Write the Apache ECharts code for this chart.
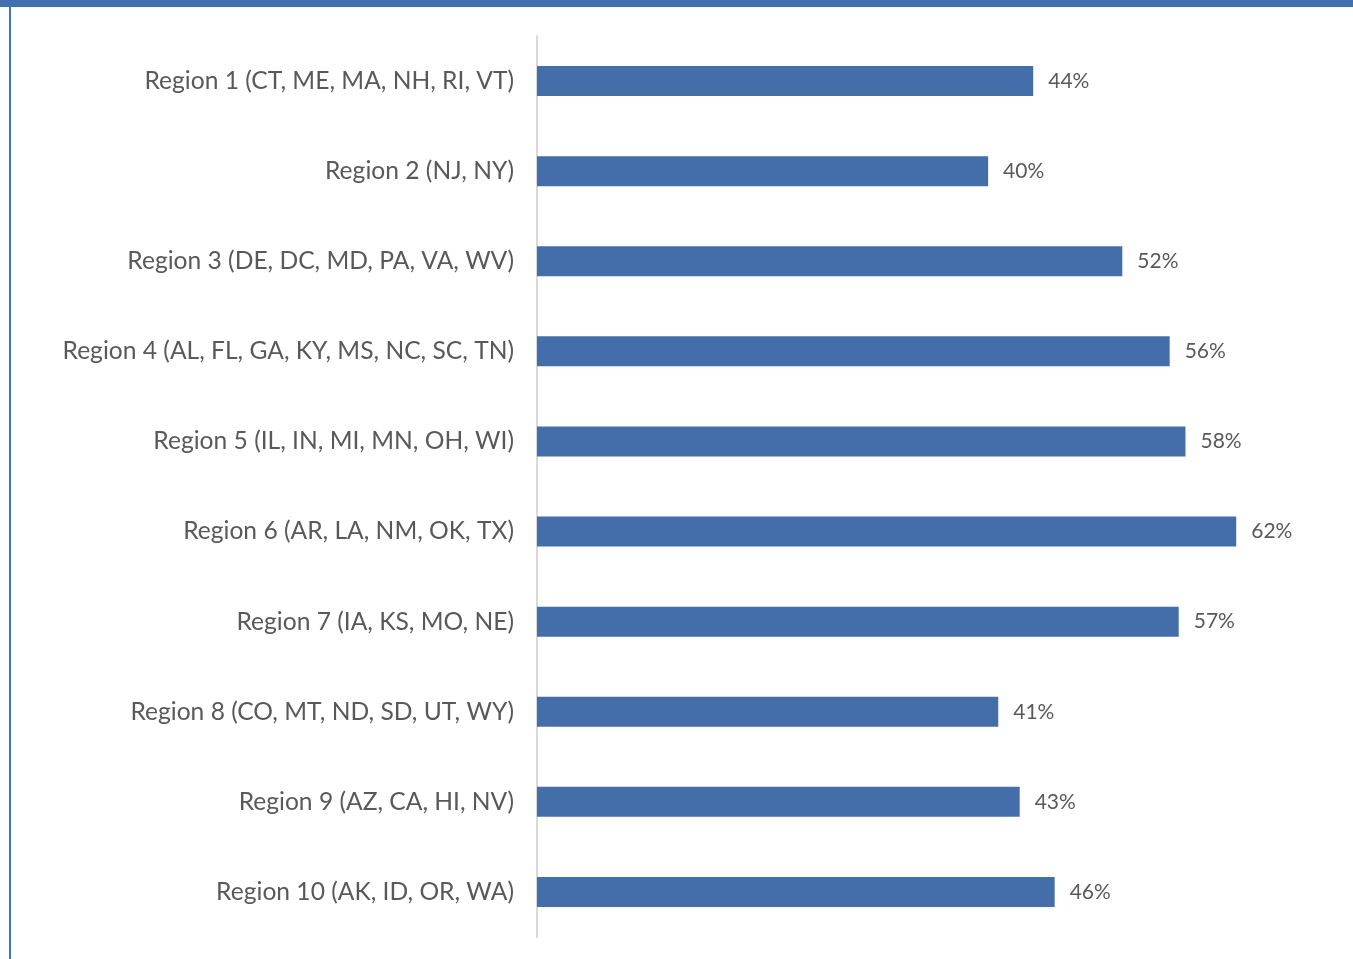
<!DOCTYPE html>
<html><head><meta charset="utf-8">
<script src="https://cdn.jsdelivr.net/npm/echarts@6/dist/echarts.min.js"></script>
<style>html,body{margin:0;padding:0;background:#fff}#c{width:1353px;height:959px}</style>
</head><body><div id="c"></div>
<script>
const categories = [
  'Region 1 (CT, ME, MA, NH, RI, VT)',
  'Region 2 (NJ, NY)',
  'Region 3 (DE, DC, MD, PA, VA, WV)',
  'Region 4 (AL, FL, GA, KY, MS, NC, SC, TN)',
  'Region 5 (IL, IN, MI, MN, OH, WI)',
  'Region 6 (AR, LA, NM, OK, TX)',
  'Region 7 (IA, KS, MO, NE)',
  'Region 8 (CO, MT, ND, SD, UT, WY)',
  'Region 9 (AZ, CA, HI, NV)',
  'Region 10 (AK, ID, OR, WA)'
];
const values = [44.0, 40.0, 51.9, 56.1, 57.5, 62.0, 56.9, 40.9, 42.8, 45.9];

const chart = echarts.init(document.getElementById('c'), null, {renderer: 'canvas'});
const font = 'Lato, "Noto Sans", sans-serif';
chart.setOption({
  animation: false,
  graphic: [
    {type: 'rect', shape: {x: 0, y: 0, width: 1353, height: 7}, style: {fill: '#426FAD'}},
    {type: 'rect', shape: {x: 9, y: 7, width: 2, height: 952}, style: {fill: '#4472C4'}}
  ],
  grid: {left: 537, top: 36, width: 812, height: 901, containLabel: false},
  xAxis: {type: 'value', min: 0, max: 72, show: false},
  yAxis: {
    type: 'category', data: categories, inverse: true,
    axisLine: {show: true, lineStyle: {color: '#D9D9D9', width: 2}},
    axisTick: {show: false},
    axisLabel: {color: '#595959', fontSize: 24.6, fontFamily: font, margin: 23}
  },
  series: [{
    type: 'bar', data: values, barWidth: 30,
    itemStyle: {color: '#436EAA'},
    label: {show: true, position: 'right', distance: 15, color: '#595959', fontSize: 21, fontFamily: font,
      formatter: p => Math.round(p.value) + '%'}
  }]
});
</script></body></html>
